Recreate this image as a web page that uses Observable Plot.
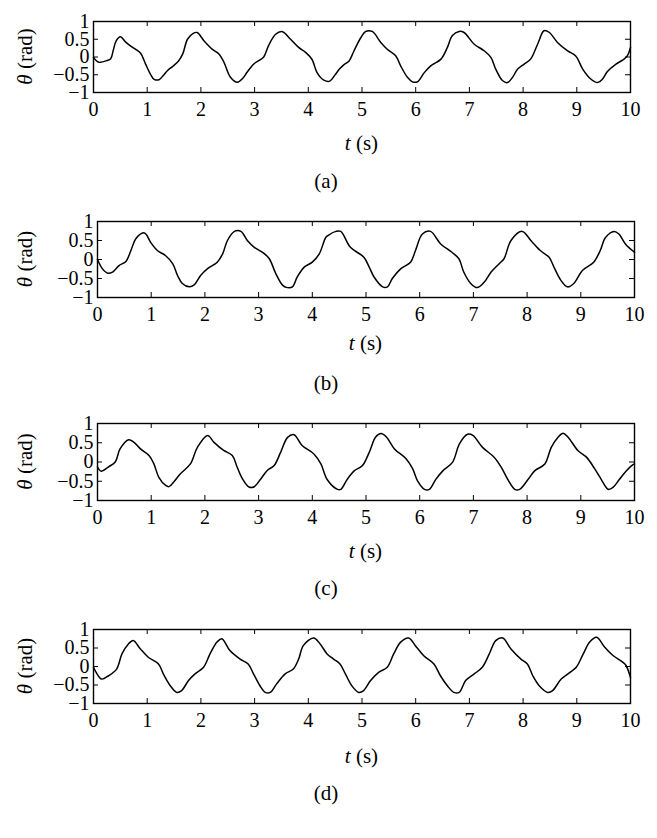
<!DOCTYPE html>
<html><head><meta charset="utf-8">
<script src="https://cdn.jsdelivr.net/npm/d3@7"></script>
<script src="https://cdn.jsdelivr.net/npm/@observablehq/plot@0.6"></script>
<style>
html,body{margin:0;padding:0;background:#fff;overflow:hidden;}
#root{position:relative;width:657px;height:838px;overflow:hidden;font-family:"Liberation Serif","DejaVu Serif",serif;color:#000;background:#fff;}
#root svg, #root svg text{font-family:"Liberation Serif","DejaVu Serif",serif;}
.panel{position:absolute;left:0;}
.cap{position:absolute;left:0;width:652px;text-align:center;font-size:21px;line-height:21px;}
</style></head><body><div id="root"></div>
<script>
// ---- tick values and labels ----
const xTicks = [0,1,2,3,4,5,6,7,8,9,10];
const yTicks = [-1,-0.5,0,0.5,1];
const yTickLabels = ["\u22121","\u22120.5","0","0.5","1"];
const captions = ["(a)","(b)","(c)","(d)"];
const yLabelSymbol = "\u03B8", yLabelUnit = " (rad)";
const xLabelSymbol = "t", xLabelUnit = " (s)";

// ---- series (a) ----
const tA = [0,0.05,0.1,0.25,0.32,0.37,0.42,0.5,0.6,0.7,0.8,0.88,0.97,1.06,1.13,1.22,1.3,1.38,1.47,1.58,1.66,1.75,1.85,1.93,2.06,2.21,2.34,2.43,2.55,2.68,2.78,2.86,2.99,3.1,3.17,3.26,3.39,3.51,3.67,3.82,3.95,4.07,4.16,4.29,4.4,4.5,4.58,4.66,4.76,4.85,4.98,5.07,5.19,5.35,5.47,5.63,5.72,5.85,5.94,6.03,6.16,6.28,6.47,6.59,6.68,6.81,6.9,7.09,7.28,7.4,7.49,7.62,7.71,7.8,7.9,8.02,8.14,8.27,8.39,8.49,8.64,8.83,8.98,9.11,9.26,9.39,9.48,9.57,9.73,9.88,9.94,10];
const thetaA = [-0.01,-0.1,-0.15,-0.1,-0.05,0.2,0.45,0.57,0.42,0.3,0.2,0.1,-0.2,-0.48,-0.63,-0.64,-0.52,-0.38,-0.27,-0.12,0.08,0.5,0.66,0.69,0.45,0.22,0.08,-0.15,-0.57,-0.71,-0.6,-0.43,-0.19,-0.08,0.0,0.32,0.64,0.72,0.5,0.27,0.13,-0.07,-0.43,-0.65,-0.68,-0.5,-0.34,-0.22,-0.11,0.17,0.55,0.72,0.72,0.41,0.22,0.03,-0.25,-0.58,-0.70,-0.70,-0.44,-0.25,-0.06,0.27,0.6,0.72,0.69,0.36,0.17,-0.01,-0.34,-0.67,-0.72,-0.58,-0.34,-0.2,-0.06,0.36,0.74,0.69,0.41,0.17,0.03,-0.34,-0.62,-0.72,-0.62,-0.41,-0.2,-0.06,0.03,0.27];

// ---- series (b) ----
const tB = [0,0.09,0.19,0.28,0.4,0.53,0.62,0.71,0.84,0.9,0.99,1.12,1.27,1.4,1.49,1.58,1.71,1.8,1.92,2.05,2.23,2.33,2.42,2.55,2.67,2.79,2.92,3.1,3.2,3.32,3.45,3.54,3.63,3.72,3.85,4.0,4.13,4.25,4.29,4.44,4.53,4.71,4.96,5.06,5.15,5.31,5.4,5.49,5.65,5.83,5.92,6.05,6.2,6.39,6.6,6.73,6.82,6.95,7.07,7.2,7.33,7.48,7.57,7.7,7.91,8.07,8.25,8.41,8.5,8.63,8.75,8.87,9.03,9.24,9.36,9.46,9.62,9.71,9.83,10];
const thetaB = [0.0,-0.24,-0.36,-0.33,-0.16,-0.05,0.23,0.54,0.70,0.67,0.45,0.23,0.10,-0.11,-0.42,-0.63,-0.72,-0.67,-0.42,-0.24,-0.07,0.15,0.5,0.74,0.74,0.5,0.32,0.16,0.02,-0.37,-0.68,-0.74,-0.72,-0.46,-0.2,-0.07,0.15,0.58,0.63,0.74,0.74,0.32,0.06,-0.2,-0.46,-0.72,-0.72,-0.5,-0.24,-0.07,0.23,0.67,0.74,0.41,0.19,0.02,-0.33,-0.63,-0.74,-0.6,-0.33,-0.11,0.02,0.5,0.74,0.5,0.23,0.06,-0.2,-0.55,-0.72,-0.63,-0.29,-0.07,0.23,0.58,0.74,0.67,0.41,0.19];

// ---- series (c) ----
const tC = [0,0.07,0.2,0.33,0.42,0.58,0.68,0.8,0.96,1.05,1.14,1.27,1.33,1.42,1.54,1.73,1.86,2.05,2.17,2.35,2.51,2.6,2.7,2.82,2.91,3.04,3.16,3.29,3.41,3.54,3.66,3.81,4.03,4.16,4.28,4.47,4.53,4.65,4.78,4.93,5.06,5.18,5.28,5.38,5.53,5.75,5.87,5.96,6.09,6.18,6.3,6.43,6.61,6.74,6.89,6.99,7.17,7.39,7.52,7.64,7.77,7.86,8.02,8.14,8.33,8.45,8.58,8.67,8.76,8.95,9.11,9.26,9.38,9.51,9.6,9.72,9.85,9.97,10];
const thetaC = [-0.13,-0.24,-0.13,0.0,0.34,0.58,0.51,0.34,0.17,-0.05,-0.39,-0.61,-0.64,-0.52,-0.31,-0.05,0.38,0.69,0.51,0.3,0.17,-0.13,-0.44,-0.65,-0.65,-0.44,-0.22,-0.09,0.25,0.64,0.71,0.43,0.21,-0.05,-0.46,-0.71,-0.71,-0.45,-0.23,-0.10,0.25,0.65,0.74,0.65,0.34,0.08,-0.18,-0.49,-0.71,-0.71,-0.45,-0.23,-0.01,0.47,0.72,0.69,0.38,0.12,-0.14,-0.45,-0.71,-0.71,-0.45,-0.23,-0.05,0.38,0.65,0.75,0.65,0.29,0.12,-0.18,-0.45,-0.71,-0.66,-0.45,-0.23,-0.07,-0.05];

// ---- series (d) ----
const tD = [0,0.05,0.15,0.28,0.43,0.53,0.65,0.74,0.87,1.02,1.21,1.3,1.43,1.55,1.64,1.77,1.89,2.05,2.17,2.3,2.39,2.54,2.73,2.88,2.98,3.1,3.2,3.29,3.41,3.57,3.72,3.82,3.91,4.1,4.22,4.35,4.47,4.59,4.69,4.81,4.94,5.03,5.16,5.31,5.47,5.59,5.72,5.87,5.99,6.15,6.34,6.46,6.59,6.71,6.81,6.93,7.09,7.24,7.37,7.49,7.62,7.77,7.96,8.08,8.18,8.3,8.46,8.55,8.71,8.87,8.99,9.12,9.24,9.37,9.52,9.68,9.86,9.92,10];
const thetaD = [-0.02,-0.16,-0.34,-0.25,-0.07,0.34,0.61,0.70,0.48,0.25,0.07,-0.2,-0.52,-0.7,-0.65,-0.38,-0.2,-0.02,0.34,0.66,0.75,0.43,0.20,0.07,-0.2,-0.52,-0.7,-0.7,-0.47,-0.2,-0.07,0.20,0.57,0.77,0.61,0.34,0.20,0.07,-0.2,-0.52,-0.7,-0.65,-0.38,-0.16,-0.02,0.34,0.66,0.77,0.57,0.29,0.07,-0.25,-0.52,-0.7,-0.7,-0.38,-0.2,-0.02,0.34,0.70,0.77,0.48,0.20,0.07,-0.25,-0.52,-0.7,-0.65,-0.34,-0.16,-0.02,0.34,0.66,0.79,0.52,0.29,0.11,0.02,-0.3];

const series = [[tA,thetaA],[tB,thetaB],[tC,thetaC],[tD,thetaD]];

// ---- layout (page pixels) ----
const layout = [
  {L:93, R:630, T:21,  B:92,  xlab:52, cap:183},
  {L:97, R:634, T:221, B:297, xlab:47, cap:385},
  {L:97, R:634, T:423, B:500, xlab:52, cap:590},
  {L:93, R:630, T:629, B:703, xlab:54, cap:795}
];

const FONT = "'Liberation Serif', 'DejaVu Serif', serif";
const root = document.getElementById("root");
const W = 657, MT = 12, MB = 68;

layout.forEach((g, i) => {
  const [ts, vs] = series[i];
  const data = ts.map((t, j) => ({t, theta: vs[j]}));
  const pw = g.R - g.L, ph = g.B - g.T;
  const H = MT + ph + MB;
  const chart = Plot.plot({
    width: W, height: H,
    marginLeft: g.L, marginRight: W - g.R, marginTop: MT, marginBottom: MB,
    style: {fontFamily: FONT, fontSize: "20px", background: "transparent", color: "#000", overflow: "visible"},
    x: {domain: [0, 10]},
    y: {domain: [-1, 1]},
    marks: [
      Plot.axisX({ticks: xTicks, tickSize: 0, tickPadding: 9, label: null, tickFormat: d => String(d)}),
      Plot.axisY({ticks: yTicks, tickSize: 0, tickPadding: 4, label: null, tickFormat: d => yTickLabels[yTicks.indexOf(d)]}),
      Plot.tickX(xTicks, {x: d => d, insetTop: ph - 5, stroke: "#000", strokeWidth: 1}),
      Plot.tickX(xTicks, {x: d => d, insetBottom: ph - 5, stroke: "#000", strokeWidth: 1}),
      Plot.tickY(yTicks, {y: d => d, insetRight: pw - 5, stroke: "#000", strokeWidth: 1}),
      Plot.tickY(yTicks, {y: d => d, insetLeft: pw - 5, stroke: "#000", strokeWidth: 1}),
      Plot.line(data, {x: "t", y: "theta", stroke: "#000", strokeWidth: 1.5, curve: "catmull-rom"}),
      Plot.frame({stroke: "#000", strokeWidth: 1.4})
    ]
  });
  chart.classList.add("panel");
  chart.style.top = (g.T - MT) + "px";
  chart.style.position = "absolute";
  chart.style.maxWidth = "none";

  const svg = d3.select(chart);
  const yl = svg.append("text")
    .attr("transform", `translate(32,${MT + ph / 2}) rotate(-90)`)
    .attr("text-anchor", "middle")
    .attr("fill", "#000")
    .style("font-size", "21px");
  yl.append("tspan").attr("font-style", "italic").text(yLabelSymbol);
  yl.append("tspan").text(yLabelUnit);

  const xl = svg.append("text")
    .attr("x", (g.L + g.R) / 2)
    .attr("y", MT + ph + g.xlab + 6)
    .attr("text-anchor", "middle")
    .attr("fill", "#000")
    .style("font-size", "21px");
  xl.append("tspan").attr("font-style", "italic").text(xLabelSymbol);
  xl.append("tspan").text(xLabelUnit);

  root.appendChild(chart);

  const cap = document.createElement("div");
  cap.className = "cap";
  cap.style.top = (g.cap - 12) + "px";
  cap.textContent = captions[i];
  root.appendChild(cap);
});
</script>
</body></html>
